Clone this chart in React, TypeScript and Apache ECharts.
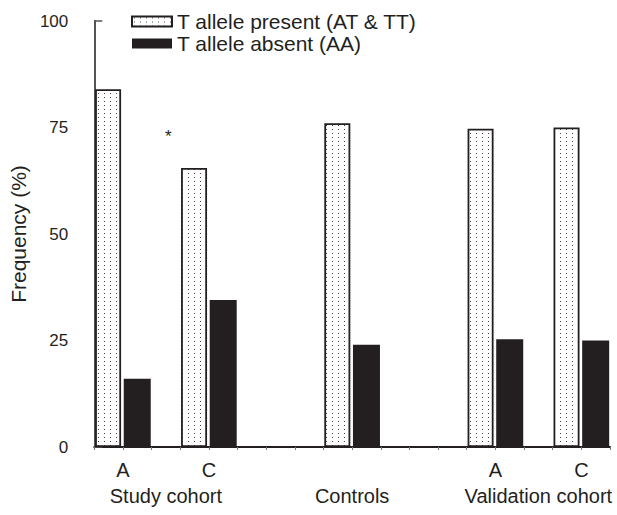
import React, { useEffect, useRef } from "react";
import * as echarts from "echarts";

const seriesNames = ["T allele present (AT & TT)", "T allele absent (AA)"];
const presentX = [0.5, 3.5, 8.5, 13.5, 16.5];
const presentValues = [84, 65.5, 76, 74.7, 75];
const absentX = [1.5, 4.5, 9.5, 14.5, 17.5];
const absentValues = [16, 34.5, 24, 25.3, 25];
const subLabelPos = [1, 4, 14, 17];
const subLabels = ["A", "C", "A", "C"];
const groupLabelPos = [2.5, 9, 15.5];
const groupLabels = ["Study cohort", "Controls", "Validation cohort"];
const slotCount = 18;
const yMax = 100;
const yStep = 25;
const starPoint = [2.6, 73];

const FONT = "Liberation Sans, Arial, Helvetica, sans-serif";
const INK = "#231f20";

function makeDots(): string {
  const c = document.createElement("canvas");
  c.width = 6;
  c.height = 4;
  const ctx = c.getContext("2d")!;
  ctx.fillStyle = "#ffffff";
  ctx.fillRect(0, 0, 6, 4);
  ctx.fillStyle = "#444444";
  ctx.fillRect(2, 1, 1, 1);
  return c.toDataURL();
}

export default function App() {
  const ref = useRef<HTMLDivElement>(null);
  useEffect(() => {
    if (!ref.current) return;
    const chart = echarts.init(ref.current, undefined, { renderer: "svg" });
    const dots = makeDots();
    const lookup = (pos: number[], labels: string[]) => (v: number) => {
      const i = pos.findIndex((p) => Math.abs(p - v) < 1e-6);
      return i >= 0 ? labels[i] : "";
    };
    chart.setOption({
      animation: false,
      textStyle: { fontFamily: FONT },
      grid: { left: 92, right: 7, top: 21, bottom: 68 },
      legend: {
        orient: "vertical",
        left: 126,
        top: 6,
        itemWidth: 40,
        itemHeight: 10,
        itemGap: 1,
        icon: "rect",
        textStyle: { fontFamily: FONT, fontSize: 21, color: INK },
        data: seriesNames,
      },
      xAxis: [
        {
          type: "value",
          min: 0,
          max: slotCount,
          interval: 1,
          position: "bottom",
          axisLine: { lineStyle: { color: INK, width: 2 } },
          axisTick: { show: true, inside: false, length: 3, lineStyle: { color: "#777" } },
          splitLine: { show: false },
          axisLabel: {
            formatter: lookup(subLabelPos, subLabels),
            fontSize: 20,
            color: INK,
            margin: 13,
            fontFamily: FONT,
          },
        },
        {
          type: "value",
          min: 0,
          max: slotCount,
          interval: 0.5,
          position: "bottom",
          axisLine: { show: false },
          axisTick: { show: false },
          splitLine: { show: false },
          axisLabel: {
            formatter: lookup(groupLabelPos, groupLabels),
            fontSize: 20,
            color: INK,
            margin: 39,
            fontFamily: FONT,
            showMinLabel: false,
            showMaxLabel: false,
          },
        },
      ],
      yAxis: {
        type: "value",
        min: 0,
        max: yMax,
        interval: yStep,
        name: "Frequency (%)",
        nameLocation: "middle",
        nameGap: 62,
        nameTextStyle: { fontSize: 21, color: INK, fontFamily: FONT },
        axisLine: { show: true, lineStyle: { color: "#555", width: 2 } },
        axisTick: { show: true, inside: true, length: 8, lineStyle: { color: "#555", width: 1.5 } },
        splitLine: { show: false },
        axisLabel: { fontSize: 17, color: INK, margin: 26, fontFamily: FONT },
      },
      series: [
        {
          name: seriesNames[0],
          type: "bar",
          xAxisIndex: 0,
          barWidth: 26,
          barGap: "-100%",
          data: presentX.map((x, i) => [x, presentValues[i]]),
          itemStyle: {
            color: { image: dots, repeat: "repeat" },
            borderColor: INK,
            borderWidth: 1.8,
          },
          markPoint: {
            symbol: "circle",
            symbolSize: 0,
            data: [{ coord: starPoint }],
            label: {
              show: true,
              formatter: "*",
              fontSize: 17,
              color: INK,
              position: "inside",
              fontFamily: FONT,
            },
          },
        },
        {
          name: seriesNames[1],
          type: "bar",
          xAxisIndex: 0,
          barWidth: 27,
          barGap: "-100%",
          data: absentX.map((x, i) => [x, absentValues[i]]),
          itemStyle: { color: INK },
        },
      ],
    });
    return () => chart.dispose();
  }, []);
  return <div ref={ref} style={{ width: 617, height: 515, position: "absolute", left: 0, top: 0 }} />;
}
